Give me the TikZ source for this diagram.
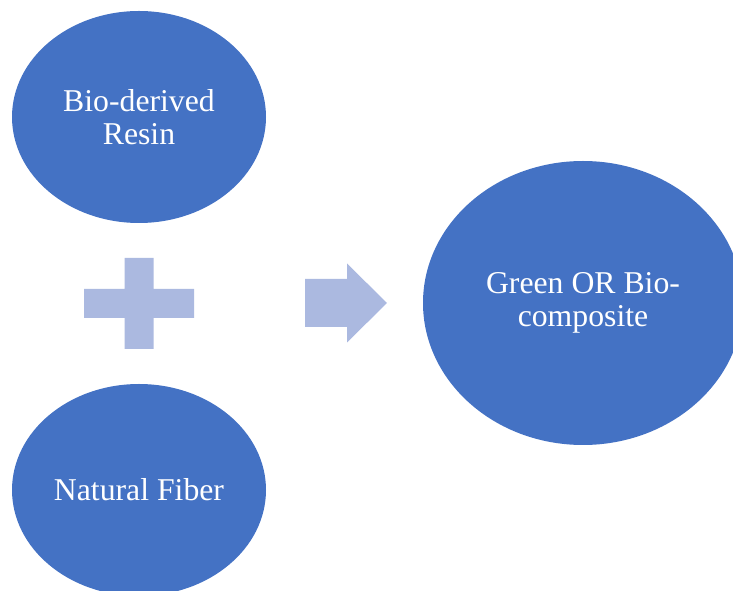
\documentclass[tikz,border=0pt]{standalone}
\usepackage{fontspec}
\setmainfont{Liberation Serif}
\usetikzlibrary{
	shapes.geometric,
	positioning,
	calc
}
\definecolor{blobblue}{RGB}{68,114,196}
\definecolor{signblue}{RGB}{171,185,224}

\begin{document}
\begin{tikzpicture}[x=0.75pt, y=-0.75pt,
				blob/.style={
					ellipse, fill=blobblue, text=white,
					minimum width=190.5pt, minimum height=159pt,
					align=center, inner sep=0pt,
					font=\fontsize{23.8}{25}\selectfont
				},
				bigblob/.style={
					blob, minimum width=240pt, minimum height=213pt
				},
				sign/.style={fill=signblue},
				]
				
				\clip (0,0) rectangle (733,591);
				
				%inputs
				\node[blob] (resin) at (139,117) {Bio-derived\\Resin};
				\node (fiber) at (resin) [blob, yshift=-279.75pt] {Natural Fiber};
				
				%plus
				\coordinate (plus) at ($(resin)!0.5!(fiber)$);
				\fill[sign, shift={(plus)}] (-14.5,-45.5) -- (14.5,-45.5) -- (14.5,-14.5) -- (55,-14.5)
					-- (55,14.5) -- (14.5,14.5) -- (14.5,45.5) -- (-14.5,45.5) -- (-14.5,14.5)
					-- (-55,14.5) -- (-55,-14.5) -- (-14.5,-14.5) -- cycle;
				
				%output
				\node (composite) at (583,303) [bigblob] {Green OR Bio-\\composite};
				
				%arrow
				\coordinate (arrow) at (305,303);
				\fill[sign, shift={(arrow)}] (0,-24) -- (42,-24) -- (42,-39.5) -- (82,0)
					-- (42,39.5) -- (42,24) -- (0,24) -- cycle;
\end{tikzpicture}
\end{document}
